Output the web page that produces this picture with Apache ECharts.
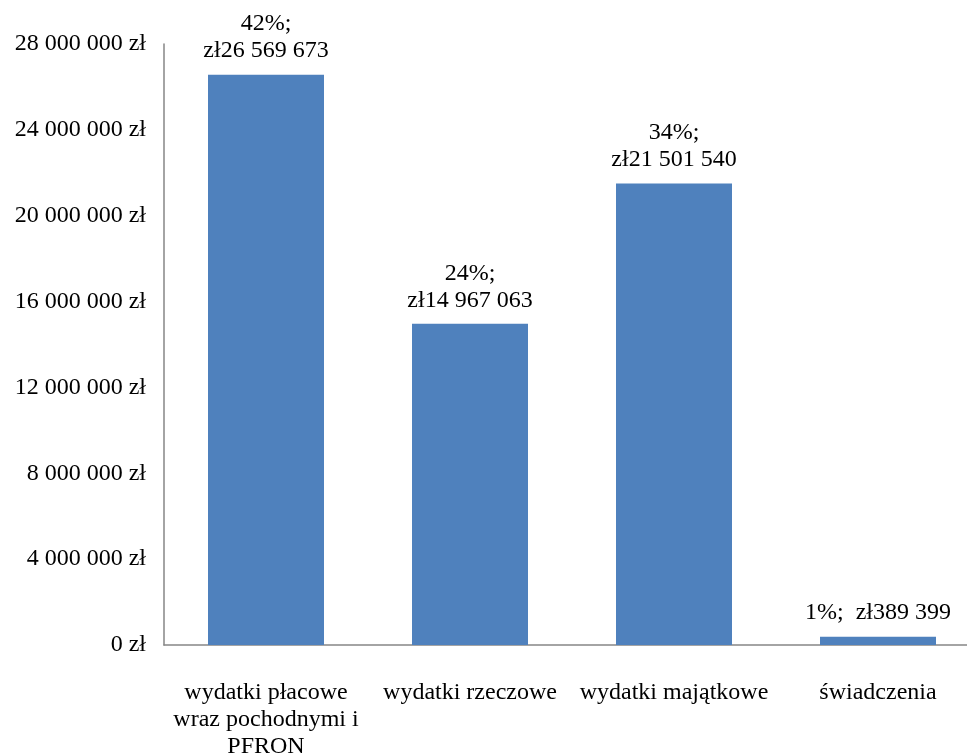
<!DOCTYPE html>
<html><head><meta charset="utf-8">
<script src="https://cdn.jsdelivr.net/npm/echarts@6/dist/echarts.min.js"></script>
<style>html,body{margin:0;padding:0;background:#fff;overflow:hidden}#c{width:967px;height:753px}</style>
</head><body><div id="c"></div>
<script>
const categories = ['wydatki płacowe\nwraz pochodnymi i\nPFRON', 'wydatki rzeczowe', 'wydatki majątkowe', 'świadczenia'];
const values = [26569673, 14967063, 21501540, 389399];
const percents = ['42%', '24%', '34%', '1%'];
const labelSep = ['\n', '\n', '\n', '  '];

function fmt(n){ return String(n).replace(/\B(?=(\d{3})+(?!\d))/g, ' '); }
const font = '"Liberation Serif", "Times New Roman", serif';
const chart = echarts.init(document.getElementById('c'), null, {renderer:'canvas'});
chart.setOption({
  animation:false,
  grid:{left:164, right:-13, top:44, bottom:108, containLabel:false, outerBoundsMode:'none'},
  xAxis:{type:'category', data:categories,
    axisLine:{lineStyle:{color:'#868686', width:1.5}},
    axisTick:{show:false},
    axisLabel:{color:'#000', fontFamily:font, fontSize:24, margin:34, lineHeight:27, interval:0}},
  yAxis:{type:'value', min:0, max:28000000, interval:4000000,
    axisLine:{show:true, lineStyle:{color:'#868686', width:1.5}},
    axisTick:{show:false},
    splitLine:{show:false},
    axisLabel:{color:'#000', fontFamily:font, fontSize:24, margin:18, formatter:v=>fmt(v)+' zł'}},
  series:[{type:'bar', data:values, barWidth:116,
    itemStyle:{color:'#4F81BD'},
    label:{show:true, position:'top', distance:10, color:'#000', fontFamily:font, fontSize:24, lineHeight:27, align:'center',
      formatter:p=>percents[p.dataIndex]+';'+labelSep[p.dataIndex]+'zł'+fmt(p.value)}}]
});
</script></body></html>
